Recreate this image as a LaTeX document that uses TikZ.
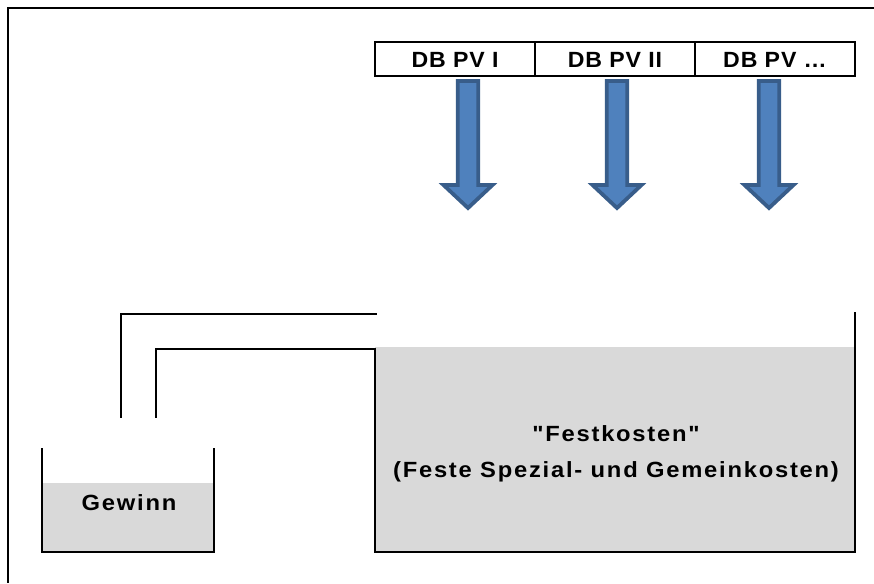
\documentclass[tikz,border=0pt]{standalone}
\usepackage{fontspec}
\setmainfont{Liberation Sans}
\newfontfamily\cellfont{Liberation Sans}[FakeStretch=1.05, LetterSpace=4]
\newfontfamily\bodyfont{Liberation Sans}[FakeStretch=1.08, LetterSpace=8]
\definecolor{boxgray}{HTML}{D9D9D9}
\definecolor{arrowfill}{HTML}{4F81BD}
\definecolor{arrowline}{HTML}{385D8A}
\tikzset{
  frameline/.style={line width=1.8pt, black},
  wall/.style={line width=1.8pt, black, line cap=rect},
  cellbox/.style={draw, line width=1.8pt, minimum width=160pt, minimum height=34pt, inner sep=0pt,
    text height=18pt, text depth=0pt, font=\cellfont\fontsize{22}{24}\selectfont\bfseries},
  label/.style={inner sep=0pt, anchor=base, font=\bodyfont\fontsize{22}{24}\selectfont\bfseries},
  arrowstyle/.style={fill=arrowfill, draw=arrowline, line width=3.8pt, line join=miter},
  pics/downarrow/.style={code={
    \draw[arrowstyle] (-10.3,0) -- (-10.3,104) -- (-24.5,104) -- (0,127) -- (24.5,104) -- (10.3,104) -- (10.3,0) -- cycle;
  }}
}
\begin{document}
\begin{tikzpicture}[x=1pt,y=-1pt]
\useasboundingbox (0,0) rectangle (874,583);
% outer frame (top and left)
\draw[frameline] (874,8) -- (8,8) -- (8,583);
% table
\node[cellbox] (c1) at (455,59) {DB PV I};
\node[cellbox] (c2) at (615,59) {DB PV II};
\node[cellbox] (c3) at (775,59) {DB PV \dots};
% arrows
\pic at (468,81) {downarrow};
\pic at (617,81) {downarrow};
\pic at (769,81) {downarrow};
% Gewinn container
\fill[boxgray] (42,483) rectangle (214,552);
\draw[wall] (42,449) -- (42,552) -- (214,552) -- (214,449);
\node[label] (gewinn) at (129,510) {Gewinn};
% Festkosten container
\fill[boxgray] (375,347) rectangle (855,552);
\draw[wall] (156,417) -- (156,349) -- (375,349) -- (375,552) -- (855,552) -- (855,313);
\draw[wall] (121,417) -- (121,314) -- (376,314);
\node[label] (fest1) at (616,441) {\char34 Festkosten\char34};
\node[label] (fest2) at (616,477) {(Feste Spezial- und Gemeinkosten)};
\end{tikzpicture}
\end{document}
